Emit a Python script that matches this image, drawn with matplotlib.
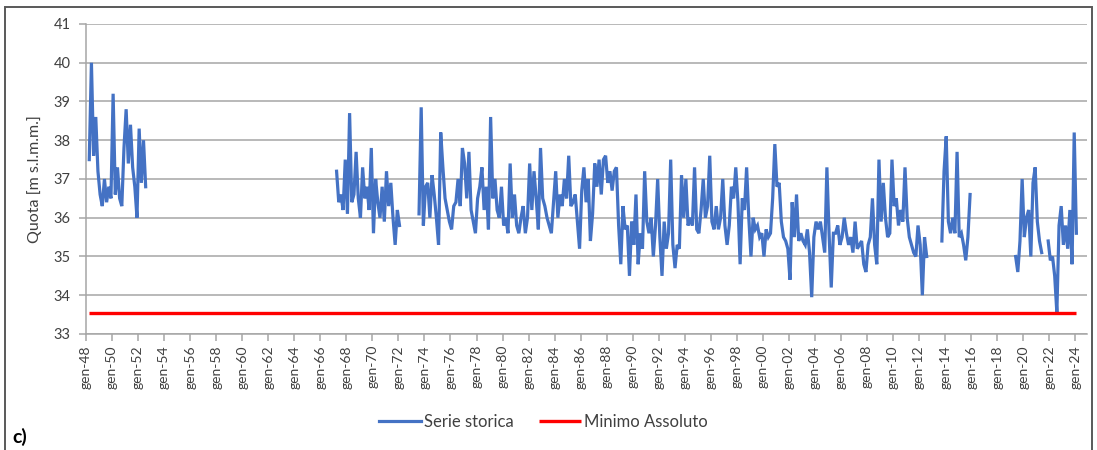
import numpy as np
import matplotlib.pyplot as plt
from matplotlib.patches import Rectangle

plt.rcParams['font.family'] = ['Lato', 'DejaVu Sans']

# Bimonthly water levels [m s.l.m.m.]; slot k of a year sits at year + (k + 0.5) / 6.
# Each series: (first year, first slot, values)
start_1948 = (1948, 1)
quota_1948 = [37.5, 40.0, 37.6, 38.6, 37.2,
              36.6, 36.3, 37.0, 36.4, 36.8, 36.5,
              39.2, 36.6, 37.3, 36.5, 36.3, 37.8,
              38.8, 37.4, 38.4, 37.3, 36.8, 36.0,
              38.3, 36.9, 38.0, 36.8]

start_1967 = (1967, 1)
quota_1967 = [37.2, 36.4, 36.6, 36.2, 37.5,
              36.1, 38.7, 36.4, 36.6, 37.7, 36.5,
              36.0, 37.3, 36.5, 36.8, 36.2, 37.8,
              35.6, 37.0, 36.4, 36.0, 36.8, 35.9,
              37.2, 36.3, 36.9, 36.0, 35.3, 36.2,
              35.8]

start_1973 = (1973, 3)
quota_1973 = [36.1, 38.85, 35.8,
              36.8, 36.9, 36.0, 37.1, 36.6, 36.0,   # 1974
              35.3, 38.2, 37.3, 36.5, 36.2, 35.9,
              35.7, 36.3, 36.4, 37.0, 36.3, 37.8,
              37.4, 36.5, 37.7, 36.2, 35.9, 35.6,
              36.5, 36.8, 37.3, 36.2, 36.8, 35.7,
              38.6, 36.5, 37.0, 36.2, 36.0, 36.8,
              35.8, 36.0, 35.6, 37.4, 36.0, 36.6,   # 1980
              35.8, 35.6, 36.0, 36.3, 35.6, 36.0,
              37.4, 36.2, 37.2, 36.5, 35.7, 37.8,
              36.5, 36.3, 36.0, 35.8, 35.6, 36.4,
              37.2, 36.0, 36.6, 36.3, 37.0, 36.5,
              37.6, 36.3, 36.4, 36.6, 35.9, 35.2,
              36.7, 37.3, 36.4, 37.0, 35.4, 36.1,
              37.4, 36.8, 37.5, 36.6, 37.5, 37.6,
              36.9, 37.2, 36.7, 37.2, 37.3, 35.8,
              34.8, 36.3, 35.7, 35.8, 34.5, 35.9,
              35.3, 36.6, 34.8, 35.6, 35.2, 37.2,   # 1990
              35.9, 35.6, 36.0, 35.0, 35.8, 37.0,
              35.5, 34.5, 35.9, 35.2, 35.6, 37.5,
              35.3, 34.7, 35.3, 35.2, 37.1, 36.0,
              37.0, 35.8, 36.0, 35.8, 37.3, 35.7,
              35.6, 36.2, 37.0, 36.0, 36.3, 37.6,
              35.9, 35.7, 36.3, 35.7, 36.0, 37.0,
              35.8, 35.3, 35.8, 36.8, 36.5, 37.3,
              36.4, 34.8, 36.5, 36.2, 37.3, 36.0,
              35.0, 36.0, 35.7, 35.8, 35.5, 35.6,
              35.0, 35.7, 35.5, 35.6, 36.5, 37.9,   # 2000
              36.8, 36.9, 35.9, 35.5, 35.4, 35.2,
              34.4, 36.4, 35.5, 36.6, 35.4, 35.6,
              35.4, 35.3, 35.7, 35.1, 33.95, 35.5,
              35.9, 35.7, 35.9, 35.5, 35.1, 37.3,
              35.6, 34.2, 35.6, 35.6, 35.8, 35.3,
              35.5, 36.0, 35.6, 35.3, 35.5, 35.1,
              35.9, 35.2, 35.3, 35.4, 34.8, 34.6,
              35.3, 35.5, 36.5, 35.3, 34.8, 37.5,
              35.9, 36.9, 36.0, 35.5, 35.6, 37.5,
              36.3, 36.5, 35.8, 36.2, 35.9, 37.3,   # 2010
              36.0, 35.5, 35.3, 35.1, 35.0, 35.8,
              35.3, 34.0, 35.5, 35.0]

start_2013 = (2013, 4)
quota_2013 = [35.4, 37.2,
              38.1, 35.9, 35.6, 36.0, 35.6, 37.7,
              35.5, 35.6, 35.3, 34.9, 35.5, 36.6]

start_2019 = (2019, 2)
quota_2019 = [35.0, 34.6, 35.4, 37.0,
              35.5, 36.0, 36.2, 35.0, 36.9, 37.3,
              35.9, 35.4, 35.1]

start_2021 = (2021, 5)
quota_2021 = [35.4,
              34.9, 35.0, 34.5, 33.55, 35.8, 36.3,
              35.3, 35.8, 35.2, 36.2, 34.8, 38.2,
              35.6]

series = [(start_1948, quota_1948), (start_1967, quota_1967), (start_1973, quota_1973),
          (start_2013, quota_2013), (start_2019, quota_2019), (start_2021, quota_2021)]

tick_years = list(range(1948, 2025, 2))


def slot_years(start, n):
    year, slot = start
    return year + (slot + np.arange(n) + 0.5) / 6


fig = plt.figure(figsize=(10.97, 4.5), dpi=100)
ax = fig.add_axes([0.0784, 0.2578, 0.9125, 0.6889])

blue = '#4472c4'
for i, (start, vals) in enumerate(series):
    ax.plot(slot_years(start, len(vals)), vals, color=blue, lw=2.3,
            solid_joinstyle='miter', label='Serie storica' if i == 0 else None)

# absolute minimum of the record, across the whole period
minimo = min(min(v) for _, v in series)
t_first = slot_years(series[0][0], 1)[0]
t_last = slot_years(series[-1][0], len(series[-1][1]))[-1]
ax.plot([t_first, t_last], [minimo, minimo], color='#ff0000', lw=2.4,
        solid_capstyle='butt', label='Minimo Assoluto')

ax.set_xlim(1948, 2024.9)
ax.set_ylim(33, 41)
ax.set_yticks(range(33, 42))
ax.set_xticks(tick_years)
ax.set_xticklabels([f'gen-{y % 100:02d}' for y in tick_years], rotation=90)

grid_col = '#a6a6a6'
ax.grid(axis='y', color=grid_col, lw=1.1)
ax.set_axisbelow(True)
for side in ['top', 'right']:
    ax.spines[side].set_visible(False)
for side in ['left', 'bottom']:
    ax.spines[side].set_color(grid_col)
    ax.spines[side].set_linewidth(1.1)
ax.tick_params(axis='both', color=grid_col, length=5, width=1.1, labelcolor='#404040')
ax.tick_params(axis='y', labelsize=10.5, pad=6)
ax.tick_params(axis='x', labelsize=10, pad=3)
ax.set_ylabel('Quota [m s.l.m.m.]', fontsize=11.5, color='#404040', labelpad=8)

ax.legend(loc='center', bbox_to_anchor=(0.457, -0.284), ncol=2, frameon=False,
          fontsize=12, handlelength=2.5, handletextpad=0.2, columnspacing=1.5,
          labelcolor='#404040')

fig.text(0.011, 0.016, 'c)', fontsize=14, weight='bold', color='black')
fig.add_artist(Rectangle((0.005, -0.02), 0.99, 1.004, transform=fig.transFigure,
                         fill=False, edgecolor='#595959', lw=1.4))

fig.savefig('out.png', dpi=100)
